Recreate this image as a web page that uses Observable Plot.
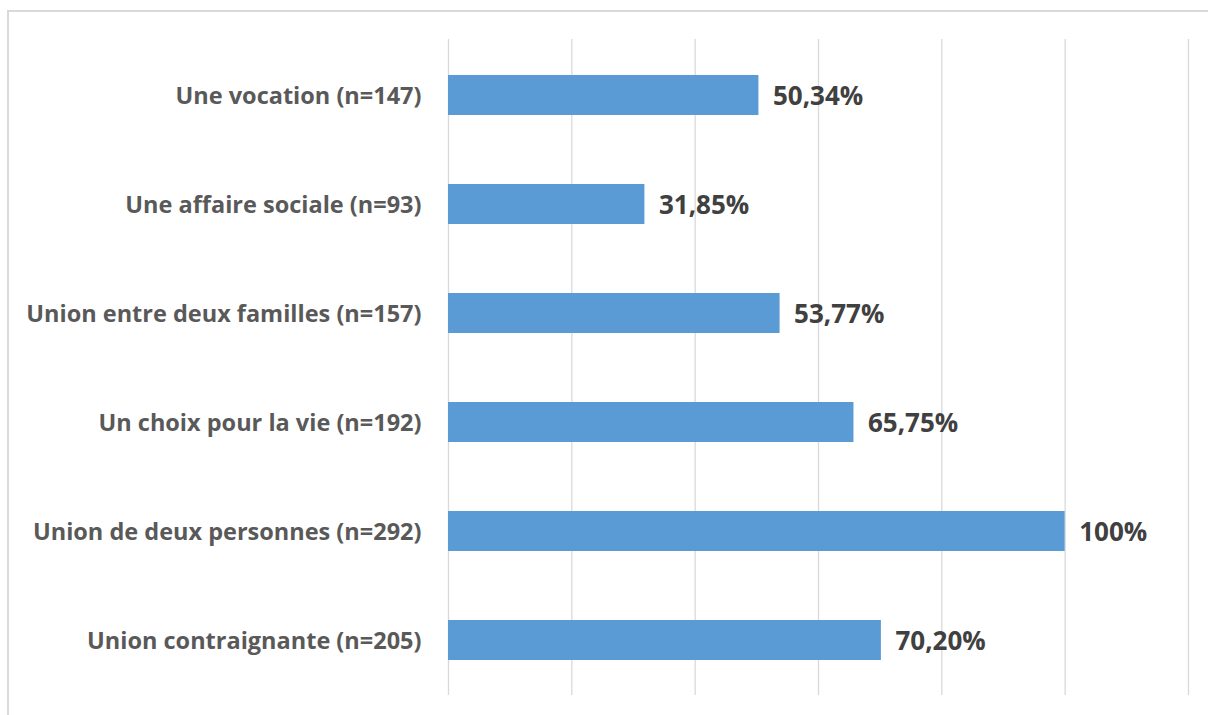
<!DOCTYPE html>
<html><head><meta charset="utf-8">
<script src="https://cdn.jsdelivr.net/npm/d3@7"></script>
<script src="https://cdn.jsdelivr.net/npm/@observablehq/plot@0.6"></script>
<style>
html,body{margin:0;padding:0;background:#fff;}
#wrap{position:relative;width:1208px;height:715px;overflow:hidden;}
#frame{position:absolute;left:7px;top:10px;width:1300px;height:800px;border-top:2px solid #d9d9d9;border-left:2px solid #d9d9d9;}
#chart{position:absolute;left:0;top:0;}
</style></head>
<body><div id="wrap"><div id="frame"></div><div id="chart"></div></div>
<script>
const categories = ["Une vocation (n=147)","Une affaire sociale (n=93)","Union entre deux familles (n=157)","Un choix pour la vie (n=192)","Union de deux personnes (n=292)","Union contraignante (n=205)"];
const values = [50.34, 31.85, 53.77, 65.75, 100, 70.20];
const valueLabels = ["50,34%","31,85%","53,77%","65,75%","100%","70,20%"];
const xTicks = [0,20,40,60,80,100,120];

const data = categories.map((c,i)=>({cat:c, v:values[i], lab:valueLabels[i]}));

const chart = Plot.plot({
  width:1208, height:715,
  marginLeft:448, marginRight:20, marginTop:39, marginBottom:20,
  style:{fontFamily:"'Open Sans', Lato, sans-serif", background:"transparent"},
  x:{domain:[0,120], ticks:xTicks, axis:null},
  y:{domain:categories, paddingInner:0.635, paddingOuter:0.32, label:null},
  marks:[
    Plot.ruleX(xTicks,{stroke:"#d9d9d9", strokeWidth:1.3}),
    Plot.barX(data,{y:"cat", x:"v", fill:"#5b9bd5"}),
    Plot.text(data,{y:"cat", x:"v", text:"lab", dx:14, dy:1, textAnchor:"start", fill:"#404040", fontSize:26, fontWeight:"bold"}),
    Plot.axisY({tickSize:0, tickPadding:27, dy:1, fontSize:23.5, fontWeight:"bold", color:"#595959", label:null})
  ]
});
document.getElementById("chart").appendChild(chart);
</script></body></html>
